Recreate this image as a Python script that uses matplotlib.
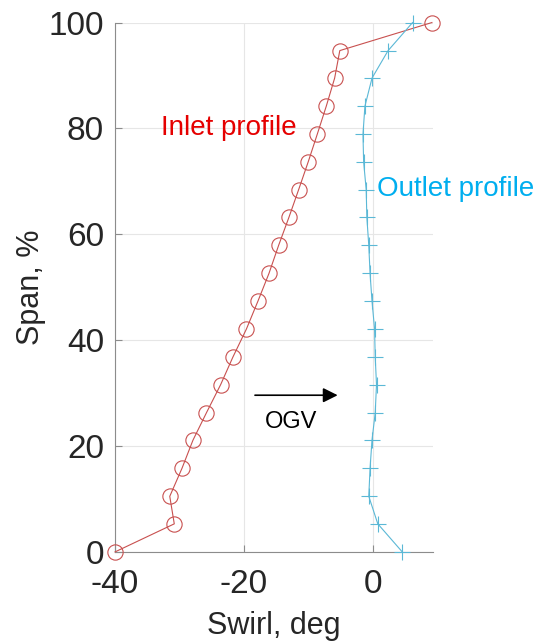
import matplotlib
matplotlib.use('Agg')
from matplotlib import pyplot as plt

plt.rcParams['font.family'] = ['Liberation Sans', 'DejaVu Sans']
plt.rcParams['axes.unicode_minus'] = False

# Span positions, %
span = [0.0, 5.3, 10.5, 15.8, 21.1, 26.3, 31.6, 36.8, 42.1, 47.4,
        52.6, 57.9, 63.2, 68.4, 73.7, 78.9, 84.2, 89.5, 94.7, 100.0]

# Swirl, deg
inlet_swirl = [-40.0, -30.8, -31.5, -29.6, -27.9, -25.8, -23.6, -21.7, -19.6, -17.8,
               -16.1, -14.6, -13.0, -11.5, -10.0, -8.6, -7.2, -5.9, -5.1, 9.2]
outlet_swirl = [4.6, 0.8, -0.6, -0.4, -0.1, 0.4, 0.6, 0.4, 0.3, -0.1,
                -0.4, -0.6, -0.9, -1.0, -1.4, -1.5, -1.2, -0.1, 2.4, 6.2]

fig = plt.figure(figsize=(5.4, 6.44), dpi=100)
ax = fig.add_axes([0.213, 0.143, 0.588, 0.822])

ax.plot(inlet_swirl, span, color='#C8504F', lw=0.8, marker='o', ms=11,
        mfc='none', mec='#C8504F', mew=0.8, clip_on=False, zorder=3)
ax.plot(outlet_swirl, span, color='#5BB8D6', lw=0.8, marker='+', ms=12,
        mec='#5BB8D6', mew=0.8, clip_on=False, zorder=3)

ax.text(-32.9, 80, 'Inlet profile', color='#E50000', fontsize=20, va='center')
ax.text(0.7, 68.5, 'Outlet profile', color='#00AEEF', fontsize=20, va='center')

ax.annotate('', xy=(-5.0, 29.6), xytext=(-18.7, 29.6),
            arrowprops=dict(arrowstyle='-|>', color='black', lw=1.2, mutation_scale=22))
ax.text(-12.6, 24.6, 'OGV', fontsize=17, ha='center', va='center')

ax.set_xlim(-40, 9.3)
ax.set_ylim(0, 100)
ax.set_xticks([-40, -20, 0])
ax.set_yticks([0, 20, 40, 60, 80, 100])
ax.grid(True, color='#E6E6E6', lw=0.8)
ax.set_axisbelow(True)

for side in ['top', 'right']:
    ax.spines[side].set_visible(False)
for side in ['left', 'bottom']:
    ax.spines[side].set_color('#8C8C8C')
    ax.spines[side].set_linewidth(0.8)

ax.tick_params(direction='in', length=5, color='#8C8C8C', labelsize=24,
               labelcolor='#262626')
ax.tick_params(axis='x', pad=12)
ax.tick_params(axis='y', pad=8)
ax.set_xlabel('Swirl, deg', fontsize=22, color='#262626', labelpad=8)
ax.set_ylabel('Span, %', fontsize=22, color='#262626', labelpad=2)

fig.savefig('out.png', dpi=100)
